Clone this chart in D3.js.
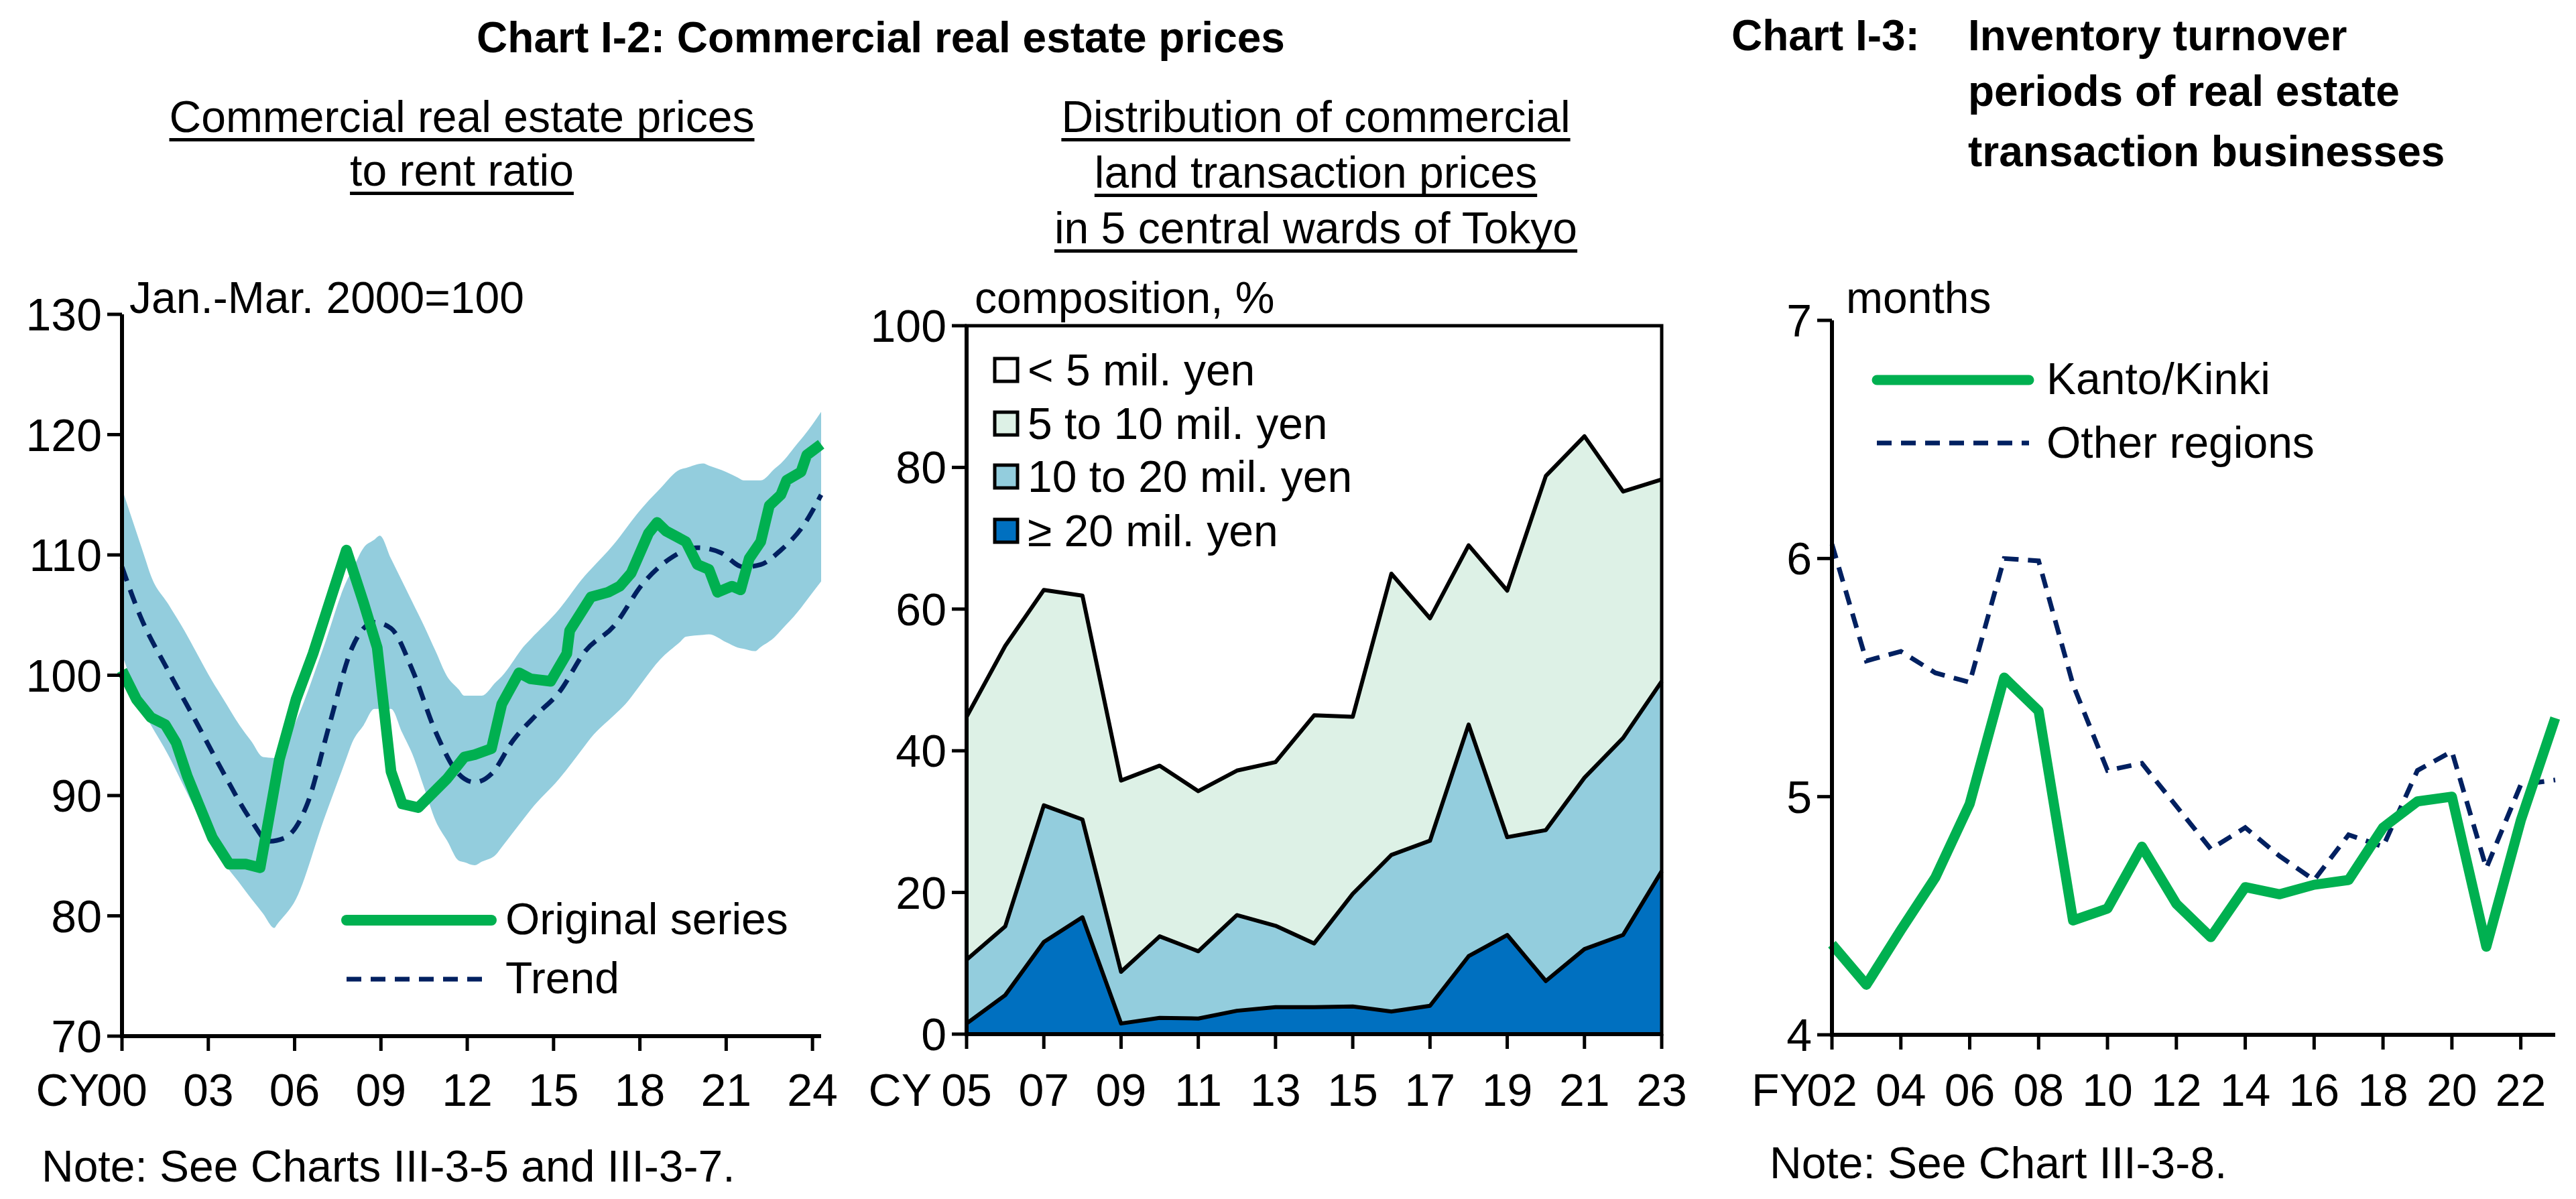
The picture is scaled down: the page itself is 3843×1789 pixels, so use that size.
<!DOCTYPE html>
<html><head><meta charset="utf-8">
<script src="https://cdn.jsdelivr.net/npm/d3@7"></script>
<style>body{margin:0;background:#fff}text{font-family:"Liberation Sans",Arial,sans-serif;fill:#000}</style>
</head><body>
<svg id="c" width="3843" height="1789"></svg>
<script>
// ---- Chart I-2 left: price to rent ratio (time in years since 2000, values)
const origT = [0,0.5,1,1.5,1.88,2.27,2.66,3.14,3.73,4.3,4.8,5.47,6.05,6.64,7.8,8.4,8.87,9.35,9.74,10.3,11.3,11.9,12.26,12.84,13.2,13.8,14.2,14.9,15.46,15.56,16.3,16.9,17.3,17.7,18.3,18.6,18.9,19.6,20.0,20.4,20.7,21.2,21.5,21.8,22.2,22.5,22.9,23.1,23.6,23.8,24.3];
const origV = [100.4,98,96.5,95.9,94.4,91.6,89.3,86.5,84.3,84.3,84,93,98,101.8,110.4,106,102.3,92,89.3,89,91.4,93.2,93.4,93.9,97.6,100.2,99.7,99.5,101.8,103.7,106.5,106.9,107.4,108.5,111.8,112.7,112,111.1,109.2,108.8,106.9,107.4,107.1,109.7,111.1,114.1,115,116.2,116.9,118.3,119.2];
const trendT = [0,0.62,1.6,2.56,3.5,4.5,5.1,5.67,6.44,7.2,8.0,8.77,9.35,10.1,10.9,11.7,12.26,12.84,13.6,14.4,15.2,16.1,17.1,18.1,19.05,20.0,20.8,21.6,22.2,22.9,23.7,24.3];
const trendV = [109,105,100.4,96.2,92,87.9,86.2,86.5,89.3,95.8,102.3,104.4,103.9,100.4,95.3,91.8,91.1,91.8,94.6,96.7,98.6,102,104.1,107.6,109.7,110.6,110.2,109,109.2,110.4,112.5,115];
const upT = [0,1.0,2.17,3.14,4.1,4.9,5.37,6.05,7.0,7.8,8.4,8.96,9.74,10.5,11.3,11.9,12.5,13.2,14.0,15.2,16.1,17.1,17.9,18.7,19.4,20.2,21.0,21.6,22.2,22.9,23.7,24.3];
const upV = [115.5,108.3,103.7,99.5,95.8,93.2,93.1,96.2,102.3,107.8,110.6,111.6,107.8,104.1,99.9,98.3,98.3,99.9,102.5,105.5,108.3,110.9,113.4,115.5,117.1,117.6,116.9,116.2,116.2,117.6,119.9,121.9];
const loT = [0,0.8,1.6,2.56,3.5,4.5,5.3,6.05,7.0,8.0,8.77,9.35,10.1,10.9,11.7,12.26,13.0,14.2,15.2,16.3,17.5,18.7,19.6,20.4,21.4,22.0,22.7,23.5,24.3];
const loV = [101.8,96.7,93.4,88.8,84.6,81.4,79,81.4,87.9,94.4,97.2,97.2,93.4,87.9,84.6,84.2,85.1,88.8,91.4,94.8,97.6,101.3,103.2,103.4,102.3,102,103.2,105.3,107.8];
const c1YTicks = [70,80,90,100,110,120,130];
const c1XTicks = [0,3,6,9,12,15,18,21,24];
const c1XLabels = ["00","03","06","09","12","15","18","21","24"];

// ---- Chart I-2 right: distribution, composition %
const c2Years = [2005,2006,2007,2008,2009,2010,2011,2012,2013,2014,2015,2016,2017,2018,2019,2020,2021,2022,2023];
const over20 = [1.5,5.5,13,16.5,1.5,2.3,2.2,3.3,3.8,3.8,3.9,3.2,4,11,14,7.5,12,14,23];
const from10to20 = [9,9.7,19.3,13.8,7.3,11.5,9.5,13.5,11.5,9,15.9,22.1,23.3,32.7,13.8,21.3,24.2,27.8,26.8];
const from5to10 = [34.3,39.6,30.4,31.6,27,24.1,22.6,20.4,23.1,32.2,25,39.7,31.4,25.3,34.8,50,48.2,34.8,28.5];
const under5 = [55.2,45.2,37.3,38.1,64.2,62.1,65.7,62.8,61.6,55,55.2,35,41.3,31,37.4,21.2,15.6,23.4,21.7];
const c2Legend = ["< 5 mil. yen","5 to 10 mil. yen","10 to 20 mil. yen","\u2265 20 mil. yen"];
const c2YTicks = [0,20,40,60,80,100];
const c2XTicks = [2005,2007,2009,2011,2013,2015,2017,2019,2021,2023];

// ---- Chart I-3: inventory turnover periods, months
const c3Years = [2002,2003,2004,2005,2006,2007,2008,2009,2010,2011,2012,2013,2014,2015,2016,2017,2018,2019,2020,2021,2022,2023];
const kanto = [4.38,4.21,4.44,4.66,4.97,5.5,5.36,4.48,4.53,4.79,4.55,4.41,4.62,4.59,4.63,4.65,4.87,4.98,5.0,4.37,4.9,5.33];
const other = [6.06,5.57,5.61,5.52,5.48,6.0,5.99,5.47,5.11,5.14,4.96,4.78,4.87,4.75,4.65,4.84,4.79,5.11,5.19,4.7,5.05,5.07];
const c3YTicks = [4,5,6,7];
const c3XTicks = [2002,2004,2006,2008,2010,2012,2014,2016,2018,2020,2022];

const GREEN="#00B050", NAVY="#002060", BAND="#93CDDD", DARK="#0070C0", LIGHTG="#DDF1E6";
const svg = d3.select("#c");
const FS = 66;

function txt(x,y,s,opt={}){
  const t = svg.append("text").attr("x",x).attr("y",y).text(s)
    .attr("font-size",opt.fs||FS).attr("text-anchor",opt.anchor||"start");
  if(opt.bold) t.attr("font-weight","bold");
  return t;
}
function underlined(x,y,s){
  const t = txt(x,y,s,{anchor:"middle"});
  const w = t.node().getComputedTextLength();
  svg.append("rect").attr("x",x-w/2).attr("y",y+9).attr("width",w).attr("height",5).attr("fill","#000");
}

// titles
txt(1314,78,"Chart I-2: Commercial real estate prices",{bold:true,anchor:"middle",fs:64});
underlined(689,197,"Commercial real estate prices");
underlined(689,277,"to rent ratio");
underlined(1963,197,"Distribution of commercial");
underlined(1963,280,"land transaction prices");
underlined(1963,363,"in 5 central wards of Tokyo");
txt(2583,75,"Chart I-3:",{bold:true,fs:64});
txt(2936,75,"Inventory turnover",{bold:true,fs:64});
txt(2936,158,"periods of real estate",{bold:true,fs:64});
txt(2936,248,"transaction businesses",{bold:true,fs:64});
txt(62,1763,"Note: See Charts III-3-5 and III-3-7.");
txt(2640,1758,"Note: See Chart III-3-8.");

function axes(x,y,yTicks,xTicks,xLab,prefix,prefixX,x0,x1,y0,y1){
  const g = svg.append("g");
  g.append("line").attr("x1",x0).attr("x2",x0).attr("y1",y0).attr("y2",y1).attr("stroke","#000").attr("stroke-width",6);
  g.append("line").attr("x1",x0-3).attr("x2",x1).attr("y1",y0).attr("y2",y0).attr("stroke","#000").attr("stroke-width",6);
  yTicks.forEach(v=>{
    g.append("line").attr("x1",x0-22).attr("x2",x0).attr("y1",y(v)).attr("y2",y(v)).attr("stroke","#000").attr("stroke-width",5);
    txt(x0-30,y(v)+24,String(v),{anchor:"end",fs:68});
  });
  xTicks.forEach((v,i)=>{
    g.append("line").attr("x1",x(v)).attr("x2",x(v)).attr("y1",y0).attr("y2",y0+22).attr("stroke","#000").attr("stroke-width",5);
    txt(x(v),1650,xLab[i],{anchor:"middle",fs:68});
  });
  txt(prefixX,1650,prefix,{anchor:"end",fs:68});
}

// ---------- Chart 1
{
  const x = d3.scaleLinear().domain([0,24.3]).range([182,1225]);
  const y = d3.scaleLinear().domain([70,130]).range([1546,469]);
  // band: interpolate lower at upper times via d3 piecewise
  const upF = d3.scaleLinear().domain(upT).range(upV);
  const loF = d3.scaleLinear().domain(loT).range(loV);
  const ts = Array.from(new Set([...upT,...loT])).sort((a,b)=>a-b);
  const band = ts.map(t=>({t,u:upF(t),l:loF(t)}));
  svg.append("path").datum(band).attr("fill",BAND)
    .attr("d",d3.area().x(d=>x(d.t)).y0(d=>y(d.l)).y1(d=>y(d.u)).curve(d3.curveMonotoneX));
  svg.append("path").datum(trendT.map((t,i)=>[t,trendV[i]])).attr("fill","none").attr("stroke",NAVY)
    .attr("stroke-width",7).attr("stroke-dasharray","22,14")
    .attr("d",d3.line().x(d=>x(d[0])).y(d=>y(d[1])).curve(d3.curveMonotoneX));
  svg.append("path").datum(origT.map((t,i)=>[t,origV[i]])).attr("fill","none").attr("stroke",GREEN)
    .attr("stroke-width",16).attr("stroke-linejoin","round")
    .attr("d",d3.line().x(d=>x(d[0])).y(d=>y(d[1])));
  axes(x,y,c1YTicks,c1XTicks,c1XLabels,"CY",148,182,1225,1546,469);
  txt(193,467,"Jan.-Mar. 2000=100");
  svg.append("line").attr("x1",517).attr("x2",733).attr("y1",1373).attr("y2",1373).attr("stroke",GREEN).attr("stroke-width",16).attr("stroke-linecap","round");
  txt(754,1394,"Original series");
  svg.append("line").attr("x1",517).attr("x2",733).attr("y1",1461).attr("y2",1461).attr("stroke",NAVY).attr("stroke-width",7).attr("stroke-dasharray","22,14");
  txt(754,1482,"Trend");
}

// ---------- Chart 2
{
  const x = d3.scaleLinear().domain([2005,2023]).range([1442,2479]);
  const y = d3.scaleLinear().domain([0,100]).range([1543,486]);
  const rows = c2Years.map((yr,i)=>({yr,a:over20[i],b:from10to20[i],c:from5to10[i],d:under5[i]}));
  const stack = d3.stack().keys(["a","b","c","d"])(rows);
  const fills = [DARK,BAND,LIGHTG,"#fff"];
  const ar = d3.area().x(d=>x(d.data.yr)).y0(d=>y(d[0])).y1(d=>y(d[1]));
  stack.forEach((s,i)=>svg.append("path").datum(s).attr("fill",fills[i]).attr("d",ar));
  const ln = d3.line().x(d=>x(d.data.yr)).y(d=>y(d[1]));
  stack.slice(0,3).forEach(s=>svg.append("path").datum(s).attr("fill","none").attr("stroke","#000").attr("stroke-width",6).attr("stroke-linejoin","round").attr("d",ln));
  svg.append("rect").attr("x",1442).attr("y",486).attr("width",2479-1442).attr("height",1543-486).attr("fill","none").attr("stroke","#000").attr("stroke-width",5);
  axes(x,y,c2YTicks,c2XTicks,c2XTicks.map(v=>String(v).slice(2)),"CY",1390,1442,2479,1543,486);
  txt(1454,467,"composition, %");
  const lf = ["#fff",LIGHTG,BAND,DARK];
  const ly = [552,632,711,792];
  c2Legend.forEach((s,i)=>{
    svg.append("rect").attr("x",1484).attr("y",ly[i]-17).attr("width",34).attr("height",34).attr("fill",lf[i]).attr("stroke","#000").attr("stroke-width",5);
    txt(1533,ly[i]+23,s);
  });
}

// ---------- Chart 3
{
  const x = d3.scaleLinear().domain([2002,2023]).range([2733,3812]);
  const y = d3.scaleLinear().domain([4,7]).range([1544,478]);
  svg.append("path").datum(c3Years.map((t,i)=>[t,other[i]])).attr("fill","none").attr("stroke",NAVY)
    .attr("stroke-width",7).attr("stroke-dasharray","22,14").attr("d",d3.line().x(d=>x(d[0])).y(d=>y(d[1])));
  svg.append("path").datum(c3Years.map((t,i)=>[t,kanto[i]])).attr("fill","none").attr("stroke",GREEN)
    .attr("stroke-width",15).attr("stroke-linejoin","round").attr("d",d3.line().x(d=>x(d[0])).y(d=>y(d[1])));
  axes(x,y,c3YTicks,c3XTicks,c3XTicks.map(v=>String(v).slice(2)),"FY",2700,2733,3812,1544,478);
  txt(2754,467,"months");
  svg.append("line").attr("x1",2800).attr("x2",3027).attr("y1",567).attr("y2",567).attr("stroke",GREEN).attr("stroke-width",15).attr("stroke-linecap","round");
  txt(3053,588,"Kanto/Kinki");
  svg.append("line").attr("x1",2800).attr("x2",3027).attr("y1",661).attr("y2",661).attr("stroke",NAVY).attr("stroke-width",7).attr("stroke-dasharray","22,14");
  txt(3053,683,"Other regions");
}
</script></body></html>
